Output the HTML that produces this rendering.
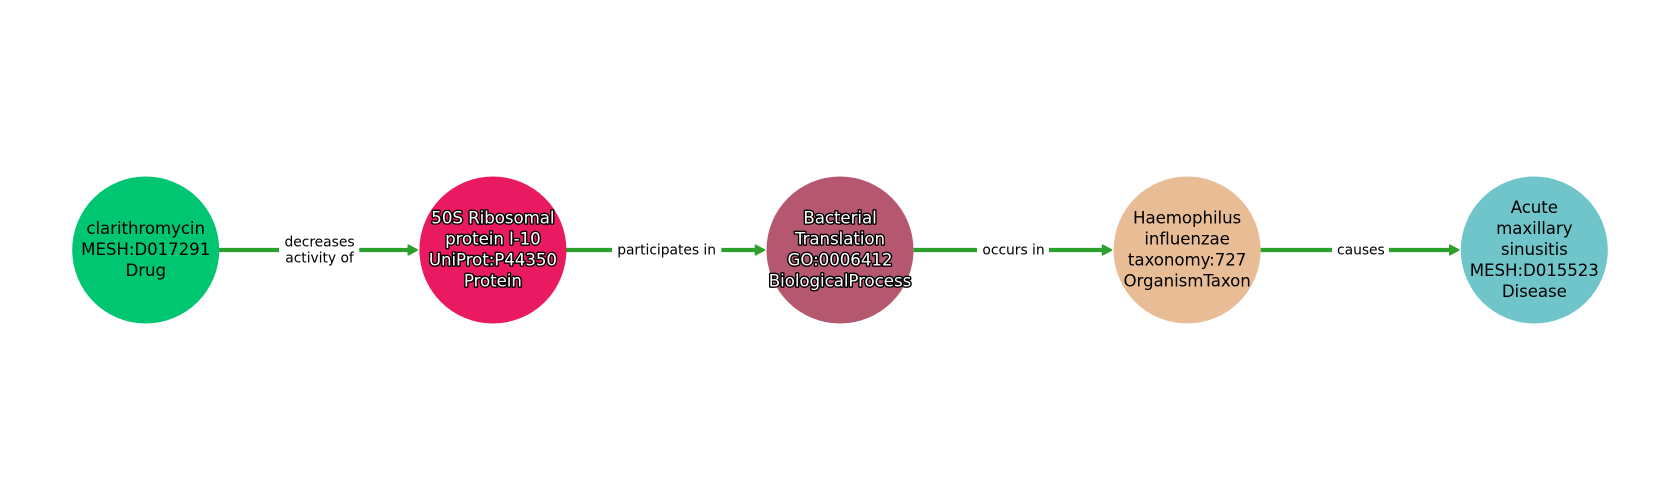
<!DOCTYPE html>
<html><head><meta charset="utf-8"><style>
html,body{margin:0;padding:0;background:#fff}
svg{display:block}
text{font-family:"DejaVu Sans",sans-serif;text-anchor:middle}
.n{font-size:16.67px;fill:#000;letter-spacing:-0.08px}
.h{font-size:16.67px;fill:#fff;stroke:#000;stroke-width:2.8px;paint-order:stroke;stroke-linejoin:round;letter-spacing:-0.06px}
.e{font-size:13.89px;fill:#000;letter-spacing:-0.04px}
</style></head><body>
<svg width="1680" height="500" viewBox="0 0 1680 500" xmlns="http://www.w3.org/2000/svg">
<rect width="1680" height="500" fill="#fff"/>
<g fill="none" stroke="#2ca02c" stroke-width="4.2">
<path d="M219 250H279M359.3 250H410"/>
<path d="M566 250H612M721.4 250H757"/>
<path d="M913.6 250H977M1049 250H1104"/>
<path d="M1260.7 250H1332M1389 250H1451"/>
</g>
<g fill="#2ca02c" stroke="#2ca02c" stroke-width="1.6" stroke-linejoin="round">
<path d="M408.3 245.2L417.2 250L408.3 254.8Z"/>
<path d="M755.5 245.2L764.4 250L755.5 254.8Z"/>
<path d="M1102.6 245.2L1111.5 250L1102.6 254.8Z"/>
<path d="M1449.8 245.2L1458.7 250L1449.8 254.8Z"/>
</g>
<circle cx="145.7" cy="250" r="73.5" fill="#00c571"/>
<circle cx="492.9" cy="250" r="73.5" fill="#e91a62"/>
<circle cx="840" cy="250" r="73.5" fill="#b5586f"/>
<circle cx="1187.1" cy="250" r="73.5" fill="#e8bd96"/>
<circle cx="1534.3" cy="250" r="73.5" fill="#70c5cb"/>
<text class="n" x="145.7" y="234">clarithromycin</text>
<text class="n" x="145.7" y="255">MESH:D017291</text>
<text class="n" x="145.7" y="276">Drug</text>
<text class="h" x="492.9" y="223.5">50S Ribosomal</text>
<text class="h" x="492.9" y="244.5">protein l-10</text>
<text class="h" x="492.9" y="265.5">UniProt:P44350</text>
<text class="h" x="492.9" y="286.5">Protein</text>
<text class="h" x="840" y="223.5">Bacterial</text>
<text class="h" x="840" y="244.5">Translation</text>
<text class="h" x="840" y="265.5">GO:0006412</text>
<text class="h" x="840" y="286.5">BiologicalProcess</text>
<text class="n" x="1187.1" y="223.5">Haemophilus</text>
<text class="n" x="1187.1" y="244.5">influenzae</text>
<text class="n" x="1187.1" y="265.5">taxonomy:727</text>
<text class="n" x="1187.1" y="286.5">OrganismTaxon</text>
<text class="n" x="1534.3" y="213">Acute</text>
<text class="n" x="1534.3" y="234">maxillary</text>
<text class="n" x="1534.3" y="255">sinusitis</text>
<text class="n" x="1534.3" y="276">MESH:D015523</text>
<text class="n" x="1534.3" y="297">Disease</text>
<text class="e" x="319.5" y="246.3">decreases</text>
<text class="e" x="319.5" y="262.5">activity of</text>
<text class="e" x="666.6" y="254.3">participates in</text>
<text class="e" x="1013.5" y="254.3">occurs in</text>
<text class="e" x="1360.9" y="254.3">causes</text>
</svg>
</body></html>
